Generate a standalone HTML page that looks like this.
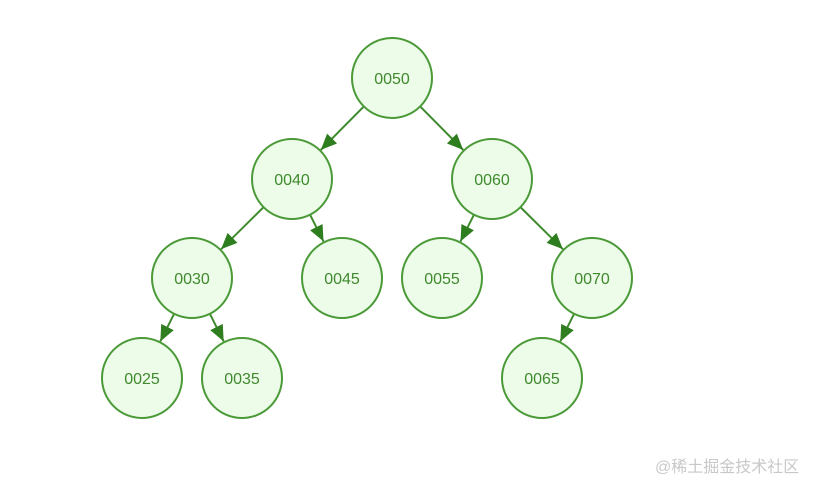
<!DOCTYPE html>
<html><head><meta charset="utf-8"><style>
html,body{margin:0;padding:0;background:#fff;width:814px;height:480px;overflow:hidden}
.wm{position:absolute;left:655px;top:453px;font:16px "Liberation Sans","Noto Sans CJK SC",sans-serif;color:#c8c8c8}
</style></head><body>
<svg id="s" width="814" height="480" xmlns="http://www.w3.org/2000/svg" style="position:absolute;left:0;top:0">
<defs><marker id="a" markerWidth="16" markerHeight="14" refX="16" refY="7" orient="auto" markerUnits="userSpaceOnUse" viewBox="0 0 16 14"><path d="M0,0 L16,7 L0,14 z" fill="#2e7d1e"/></marker></defs>
</svg>
<div class="wm">@稀土掘金技术社区</div>
<script>
var N={"0050":[392,78],"0040":[292,179],"0060":[492,179],"0030":[192,278],"0045":[342,278],"0055":[442,278],"0070":[592,278],"0025":[142,378],"0035":[242,378],"0065":[542,378]};
var E=[["0050","0040"],["0050","0060"],["0040","0030"],["0040","0045"],["0060","0055"],["0060","0070"],["0030","0025"],["0030","0035"],["0070","0065"]];
var s=document.getElementById('s'),R=40,h="";
E.forEach(function(e){var a=N[e[0]],b=N[e[1]],dx=b[0]-a[0],dy=b[1]-a[1],l=Math.hypot(dx,dy),ux=dx/l,uy=dy/l;
h+='<line x1="'+(a[0]+ux*R)+'" y1="'+(a[1]+uy*R)+'" x2="'+(b[0]-ux*(R+1))+'" y2="'+(b[1]-uy*(R+1))+'" stroke="#3f8a2e" stroke-width="2" marker-end="url(#a)"/>';});
for(var k in N){var p=N[k];h+='<circle cx="'+p[0]+'" cy="'+p[1]+'" r="'+R+'" fill="#edfbe9" stroke="#4a9a38" stroke-width="2"/><text x="'+p[0]+'" y="'+(p[1]+6)+'" text-anchor="middle" font-family="Liberation Sans,sans-serif" font-size="16" fill="#3f8a2e">'+k+'</text>';}
s.insertAdjacentHTML('beforeend',h);
</script>
</body></html>
